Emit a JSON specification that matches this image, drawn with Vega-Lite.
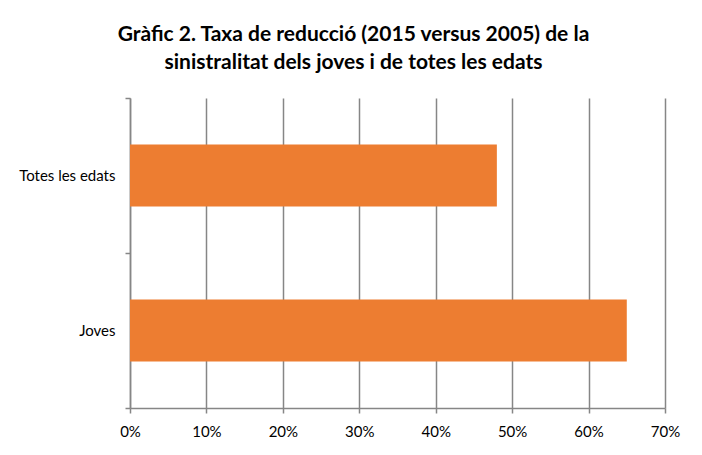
{
  "$schema": "https://vega.github.io/schema/vega-lite/v6.json",
  "autosize": {"type": "none"},
  "width": 535,
  "height": 310,
  "padding": {"left": 130, "top": 98, "right": 37, "bottom": 47},
  "background": "white",
  "title": {
    "text": ["Gràfic 2. Taxa de reducció (2015 versus 2005) de la", "sinistralitat dels joves i de totes les edats"],
    "font": "Lato",
    "fontSize": 21,
    "fontWeight": "bold",
    "color": "#000000",
    "lineHeight": 28,
    "anchor": "middle",
    "dx": -44,
    "offset": 18
  },
  "data": {
    "values": [
      {"grup": "Totes les edats", "taxa": 0.48},
      {"grup": "Joves", "taxa": 0.65}
    ]
  },
  "config": {
    "view": {"stroke": null},
    "axis": {
      "labelFont": "Lato",
      "labelFontSize": 15,
      "labelColor": "#000000",
      "domainColor": "#868686",
      "domainWidth": 1.5,
      "tickColor": "#868686",
      "tickWidth": 1.5,
      "tickSize": 5,
      "gridColor": "#868686",
      "gridWidth": 1.5
    }
  },
  "mark": {"type": "bar", "color": "#ED7D31", "height": {"band": 0.4}},
  "encoding": {
    "y": {
      "field": "grup",
      "type": "nominal",
      "sort": ["Totes les edats", "Joves"],
      "scale": {"paddingInner": 0, "paddingOuter": 0},
      "axis": {"title": null, "tickBand": "extent", "grid": false, "labelPadding": 10}
    },
    "x": {
      "field": "taxa",
      "type": "quantitative",
      "scale": {"domain": [0, 0.7]},
      "axis": {"title": null, "format": ".0%", "values": [0, 0.1, 0.2, 0.3, 0.4, 0.5, 0.6, 0.7], "grid": true, "labelFlush": false, "labelPadding": 11}
    }
  }
}
